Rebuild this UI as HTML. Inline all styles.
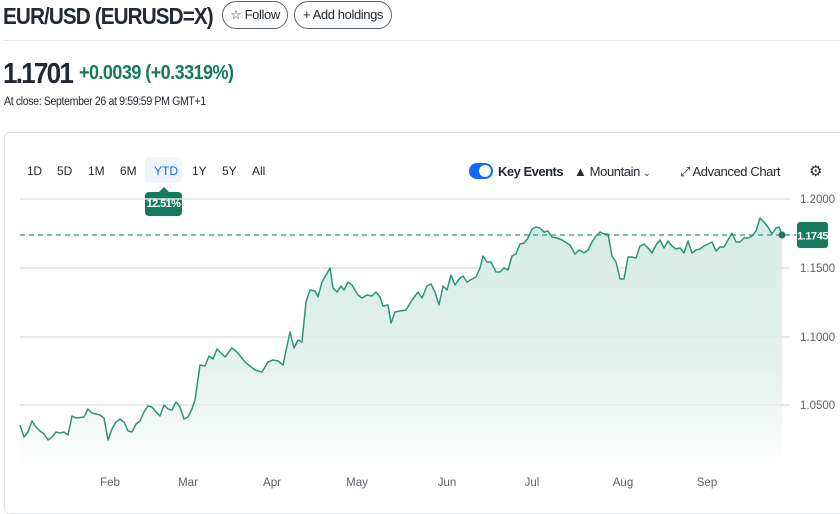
<!DOCTYPE html>
<html><head><meta charset="utf-8"><style>
body{margin:0;width:840px;height:507px;background:#fff;font-family:"Liberation Sans",sans-serif;color:#232a31;overflow:hidden;position:relative}
.a{position:absolute;white-space:nowrap}
.s{transform-origin:0 0}
.btn{position:absolute;border:1px solid #5b636a;border-radius:14px;height:26px;font-size:13px;line-height:26px;text-align:center;letter-spacing:-0.4px}
</style></head><body>
<div class="a s" style="left:3px;top:3px;font-size:23px;font-weight:bold;letter-spacing:-1px;transform:scaleX(0.9)">EUR/USD (EURUSD=X)</div>
<div class="btn" style="left:222px;top:1px;width:64px">☆ Follow</div>
<div class="btn" style="left:294px;top:1px;width:96px">+ Add holdings</div>
<div class="a" style="left:3px;top:40px;width:837px;height:1px;background:#e6e8ea"></div>
<div class="a s" style="left:3px;top:58px;font-size:29px;font-weight:bold;letter-spacing:-2px;transform:scaleX(0.9)">1.1701</div>
<div class="a s" style="left:79px;top:62px;font-size:20px;color:#167a5c;font-weight:bold;letter-spacing:-0.6px;transform:scaleX(0.9)">+0.0039 (+0.3319%)</div>
<div class="a s" style="left:4px;top:96px;font-size:11.5px;letter-spacing:-0.4px;transform:scaleX(0.92)">At close: September 26 at 9:59:59 PM GMT+1</div>
<div class="a" style="left:4px;top:132px;width:840px;height:380px;border:1px solid #e3e5e8;border-radius:6px"></div>
<div class="a" style="left:145px;top:157px;width:37px;height:26px;background:#eef5fd;border-radius:4px"></div>
<div class="a" style="top:164px;font-size:12px;letter-spacing:-0.3px;left:27px">1D</div>
<div class="a" style="top:164px;font-size:12px;left:57px">5D</div>
<div class="a" style="top:164px;font-size:12px;left:88px">1M</div>
<div class="a" style="top:164px;font-size:12px;left:120px">6M</div>
<div class="a" style="top:164px;font-size:12px;left:154px;color:#0f69ff">YTD</div>
<div class="a" style="top:164px;font-size:12px;left:192px">1Y</div>
<div class="a" style="top:164px;font-size:12px;left:222px">5Y</div>
<div class="a" style="top:164px;font-size:12px;left:252px">All</div>
<div class="a" style="left:145px;top:192px;width:37px;height:24px;background:#167a5c;border-radius:4px;color:#fff;font-size:11px;line-height:24px;text-align:center;font-weight:bold;letter-spacing:-0.6px">12.51%</div>
<div class="a" style="left:159px;top:187px;border-left:5px solid transparent;border-right:5px solid transparent;border-bottom:5px solid #167a5c"></div>
<div class="a" style="left:469px;top:163px;width:24px;height:16px;border-radius:8px;background:#0f69ff"></div>
<div class="a" style="left:479px;top:165px;width:12px;height:12px;border-radius:6px;background:#fff"></div>
<div class="a" style="left:498px;top:164px;font-size:13px;font-weight:bold;letter-spacing:-0.5px">Key Events</div>
<div class="a" style="left:574px;top:164px;font-size:13px;letter-spacing:-0.4px">▲ Mountain <span style="font-size:9px">⌄</span></div>
<div class="a" style="left:680px;top:164px;font-size:13px;letter-spacing:-0.4px">⤢ Advanced Chart</div>
<div class="a" style="left:809px;top:162px;font-size:15px">⚙</div>
<svg class="a" style="left:0;top:0" width="840" height="507">
<defs><linearGradient id="g" gradientUnits="userSpaceOnUse" x1="0" y1="220" x2="0" y2="468"><stop offset="0" stop-color="#d6ece5"/><stop offset="0.6" stop-color="#e4f2ee"/><stop offset="1" stop-color="#ffffff"/></linearGradient></defs>
<g stroke="#e2e4e6" stroke-width="1.5"><line x1="20" y1="199" x2="790" y2="199"/><line x1="20" y1="268" x2="790" y2="268"/><line x1="20" y1="337" x2="790" y2="337"/><line x1="20" y1="405" x2="790" y2="405"/></g>
<polygon fill="url(#g)" points="20,468 20,425 24,437 28,432 32,421 36,427 40,431 44,434 48,440 52,437 56,432 60,433 64,432 68,435 72,416 76,418 84,417 88,409 92,413 96,414 100,415 104,418 108,440 112,429 116,422 120,419 124,422 128,431 132,432 136,424 140,421 144,412 148,406 152,407 156,412 160,416 164,405 168,409 172,410 176,402 180,407 184,419 188,417 192,409 195,400 200,365 205,366 209,356 213,359 217,349 225,357 232,348 237,352 245,362 255,370 262,372 268,362 273,360 278,361 283,365 290,332 294,348 298,340 302,342 306,302 310,290 315,291 318,297 322,282 330,268 333,288 337,292 341,286 344,290 348,282 352,285 358,295 362,298 367,295 372,296 376,292 380,297 383,306 388,305 391,323 395,312 400,311 406,310 412,300 418,292 422,298 427,286 431,284 435,292 439,305 443,286 447,290 451,275 455,285 460,278 463,276 467,282 472,279 476,277 480,268 483,256 487,262 491,262 496,272 500,272 504,268 508,270 512,256 516,254 520,244 524,243 528,238 532,229 536,227 540,228 544,232 548,231 552,237 557,238 562,240 570,245 575,254 579,250 584,253 588,250 592,242 596,236 600,232 604,234 608,234 612,256 616,262 620,279 624,279 628,257 632,257 636,258 640,246 644,244 648,248 652,253 656,245 660,240 664,248 668,241 672,246 676,249 680,248 684,253 688,241 692,253 696,250 700,249 704,246 708,244 712,242 716,251 720,247 724,247 728,240 732,233 736,242 740,242 744,238 748,238 752,236 756,231 760,218 764,222 768,227 772,234 776,228 779,227 782,234 782,468"/>
<g stroke="#e2e4e6" stroke-width="1.5" opacity="0.5"><line x1="20" y1="268" x2="790" y2="268"/><line x1="20" y1="337" x2="790" y2="337"/><line x1="20" y1="405" x2="790" y2="405"/></g>
<polyline fill="none" stroke="#2a957a" stroke-width="1.5" stroke-linejoin="round" points="20,425 24,437 28,432 32,421 36,427 40,431 44,434 48,440 52,437 56,432 60,433 64,432 68,435 72,416 76,418 84,417 88,409 92,413 96,414 100,415 104,418 108,440 112,429 116,422 120,419 124,422 128,431 132,432 136,424 140,421 144,412 148,406 152,407 156,412 160,416 164,405 168,409 172,410 176,402 180,407 184,419 188,417 192,409 195,400 200,365 205,366 209,356 213,359 217,349 225,357 232,348 237,352 245,362 255,370 262,372 268,362 273,360 278,361 283,365 290,332 294,348 298,340 302,342 306,302 310,290 315,291 318,297 322,282 330,268 333,288 337,292 341,286 344,290 348,282 352,285 358,295 362,298 367,295 372,296 376,292 380,297 383,306 388,305 391,323 395,312 400,311 406,310 412,300 418,292 422,298 427,286 431,284 435,292 439,305 443,286 447,290 451,275 455,285 460,278 463,276 467,282 472,279 476,277 480,268 483,256 487,262 491,262 496,272 500,272 504,268 508,270 512,256 516,254 520,244 524,243 528,238 532,229 536,227 540,228 544,232 548,231 552,237 557,238 562,240 570,245 575,254 579,250 584,253 588,250 592,242 596,236 600,232 604,234 608,234 612,256 616,262 620,279 624,279 628,257 632,257 636,258 640,246 644,244 648,248 652,253 656,245 660,240 664,248 668,241 672,246 676,249 680,248 684,253 688,241 692,253 696,250 700,249 704,246 708,244 712,242 716,251 720,247 724,247 728,240 732,233 736,242 740,242 744,238 748,238 752,236 756,231 760,218 764,222 768,227 772,234 776,228 779,227 782,234"/>
<line x1="20" y1="235" x2="796" y2="235" stroke="#2a957a" stroke-width="1.2" stroke-dasharray="5,4"/>
<circle cx="782" cy="235" r="3.5" fill="#167a5c"/>
<rect x="797" y="222" width="31" height="26" rx="3" fill="#167a5c"/>
<text x="812.5" y="239.5" text-anchor="middle" fill="#fff" font-size="11" font-weight="bold" font-family="Liberation Sans" letter-spacing="-0.5">1.1745</text>
<g font-family="Liberation Sans" font-size="11.5" fill="#5b636a">
<text x="800" y="203">1.2000</text><text x="800" y="272">1.1500</text><text x="800" y="341">1.1000</text><text x="800" y="409">1.0500</text>
<g text-anchor="middle"><text x="110" y="486">Feb</text><text x="188" y="486">Mar</text><text x="272" y="486">Apr</text><text x="357" y="486">May</text><text x="447" y="486">Jun</text><text x="532" y="486">Jul</text><text x="623" y="486">Aug</text><text x="707" y="486">Sep</text></g>
</g>
</svg>
</body></html>
